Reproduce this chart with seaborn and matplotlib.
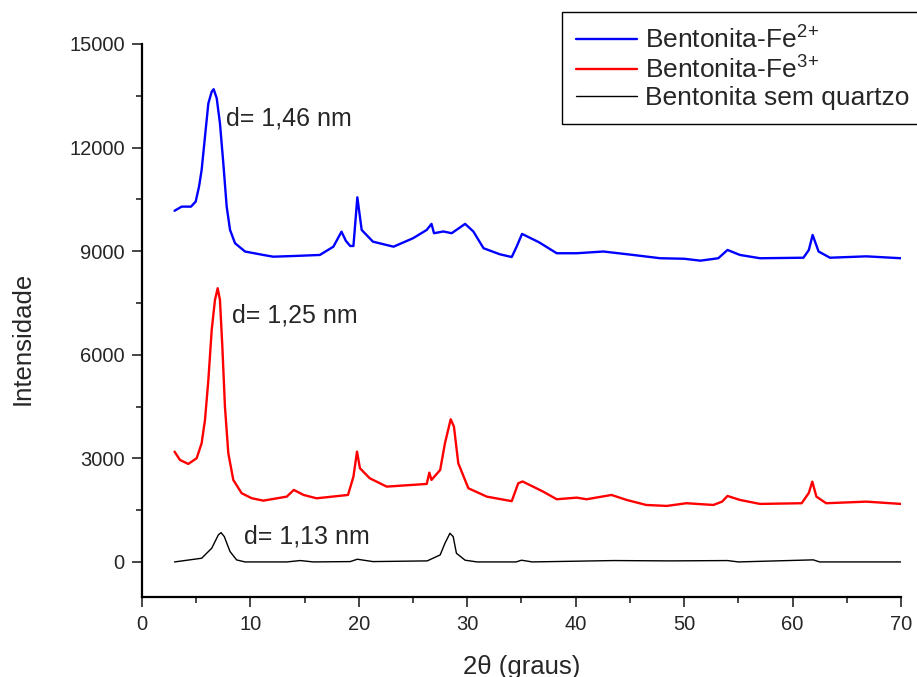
import seaborn as sns
import matplotlib.pyplot as plt
from matplotlib.ticker import MultipleLocator

two_theta_fe2 = [3.0, 3.66, 4.52, 4.95, 5.26, 5.5, 5.81, 6.12, 6.43, 6.61, 6.89, 7.19, 7.5,
                 7.81, 8.12, 8.58, 9.5, 11.19, 12.1, 14.0, 16.4, 17.65, 18.4, 18.8, 19.2, 19.5,
                 19.86, 20.26, 21.3, 23.2, 25.0, 26.26, 26.7, 26.93, 27.8, 28.56, 29.8, 30.56,
                 31.5, 33.0, 34.1, 34.55, 35.05, 36.6, 38.25, 40.1, 42.55, 45.3, 47.8, 50.0,
                 51.5, 53.15, 54.0, 55.15, 57.0, 61.0, 61.5, 61.85, 62.4, 63.45, 66.8, 70.0]
intens_fe2 = [10170, 10290, 10290, 10435, 10870, 11350, 12320, 13280, 13620, 13690, 13430,
              12700, 11545, 10290, 9615, 9230, 8990, 8890, 8840, 8860, 8890, 9130, 9565, 9300,
              9150, 9150, 10560, 9615, 9275, 9130, 9375, 9615, 9790, 9520, 9570, 9520, 9790,
              9570, 9085, 8910, 8830, 9130, 9500, 9260, 8940, 8940, 8990, 8890, 8795, 8780,
              8725, 8795, 9035, 8890, 8795, 8810, 9035, 9470, 8990, 8810, 8850, 8795]

two_theta_fe3 = [3.0, 3.5, 4.27, 5.04, 5.5, 5.81, 6.12, 6.43, 6.73, 6.98, 7.19, 7.41, 7.65,
                 7.96, 8.42, 9.19, 10.12, 11.19, 13.35, 14.0, 14.9, 16.1, 19.0, 19.5, 19.83,
                 20.1, 21.0, 22.57, 26.26, 26.5, 26.7, 27.5, 27.94, 28.47, 28.77, 29.17, 30.1,
                 31.8, 34.1, 34.7, 35.1, 37.0, 38.25, 40.1, 41.0, 43.3, 44.7, 46.5, 48.4, 50.2,
                 52.7, 53.5, 54.0, 55.15, 57.0, 60.84, 61.5, 61.82, 62.2, 63.1, 66.8, 70.0]
intens_fe3 = [3195, 2954, 2838, 3003, 3437, 4112, 5271, 6719, 7588, 7926, 7588, 6235, 4498,
              3148, 2375, 1990, 1845, 1775, 1891, 2085, 1940, 1843, 1940, 2470, 3195, 2713,
              2424, 2181, 2259, 2587, 2375, 2664, 3437, 4132, 3918, 2858, 2134, 1891, 1760,
              2279, 2330, 2036, 1815, 1862, 1815, 1940, 1795, 1650, 1622, 1700, 1650, 1746,
              1911, 1795, 1680, 1700, 2000, 2326, 1891, 1700, 1746, 1680]

two_theta_bent = [3.0, 5.5, 6.43, 7.04, 7.29, 7.59, 8.12, 8.73, 9.5, 13.35, 14.6, 15.8, 19.2,
                  19.86, 21.3, 26.3, 27.5, 27.94, 28.4, 28.7, 29.0, 29.8, 30.9, 34.5, 35.0,
                  36.0, 43.5, 48.7, 54.0, 55.0, 61.9, 62.5, 70.0]
intens_bent = [0, 107, 397, 782, 849, 733, 300, 58, 0, 0, 40, 0, 10, 78, 10, 30, 203, 540,
               830, 733, 250, 50, 0, 0, 50, 0, 40, 30, 40, 0, 60, 0, 0]

labels = [r"Bentonita-Fe$^{2\!+}$", r"Bentonita-Fe$^{3\!+}$", "Bentonita sem quartzo"]
d_labels = ["d= 1,46 nm", "d= 1,25 nm", "d= 1,13 nm"]
d_pos = [(7.75, 12830), (8.27, 7150), (9.43, 750)]

sns.set_style("ticks")
plt.rcParams["font.family"] = ["Liberation Sans", "DejaVu Sans"]
plt.rcParams["mathtext.fontset"] = "custom"
plt.rcParams["mathtext.rm"] = "Liberation Sans"
plt.rcParams["mathtext.it"] = "Liberation Sans"
plt.rcParams["mathtext.default"] = "regular"

fig = plt.figure(figsize=(9.17, 6.77), dpi=100)
ax = fig.add_axes([0.15485, 0.11743, 0.8277, 0.8176])

sns.lineplot(x=two_theta_fe2, y=intens_fe2, color="#0000ff", lw=1.7, label=labels[0], ax=ax)
sns.lineplot(x=two_theta_fe3, y=intens_fe3, color="#ff0000", lw=1.7, label=labels[1], ax=ax)
sns.lineplot(x=two_theta_bent, y=intens_bent, color="black", lw=1.0, label=labels[2], ax=ax)

for txt, (xx, yy) in zip(d_labels, d_pos):
    ax.text(xx, yy, txt, fontsize=18, ha="left", va="center")

ax.set_xlim(0, 70)
ax.set_ylim(-1030, 15000)
ax.xaxis.set_major_locator(MultipleLocator(10))
ax.xaxis.set_minor_locator(MultipleLocator(5))
ax.yaxis.set_major_locator(MultipleLocator(3000))
ax.yaxis.set_minor_locator(MultipleLocator(1500))
ax.tick_params(which="major", direction="out", length=7.5, width=1.2, labelsize=14.5, pad=5)
ax.tick_params(which="minor", direction="out", length=4, width=1.2)
sns.despine(ax=ax)
for s in ["left", "bottom"]:
    ax.spines[s].set_linewidth(1.6)
    ax.spines[s].set_color("black")

ax.set_xlabel("2θ (graus)", fontsize=18.5, labelpad=15)
ax.set_ylabel("Intensidade", fontsize=18.5)
ax.yaxis.set_label_coords(-0.141, 0.469)

# legenda parcialmente fora da figura, como no original
leg = ax.legend(loc="upper left", bbox_to_anchor=(561.7 / 917, 1 - 11.7 / 677),
                bbox_transform=fig.transFigure, fontsize=19, frameon=True, fancybox=False,
                framealpha=1, edgecolor="black", handlelength=2.3, handletextpad=0.3,
                borderpad=0.55, labelspacing=0.1, borderaxespad=0)
leg.get_frame().set_linewidth(1.0)

fig.savefig("out.png", dpi=100)
